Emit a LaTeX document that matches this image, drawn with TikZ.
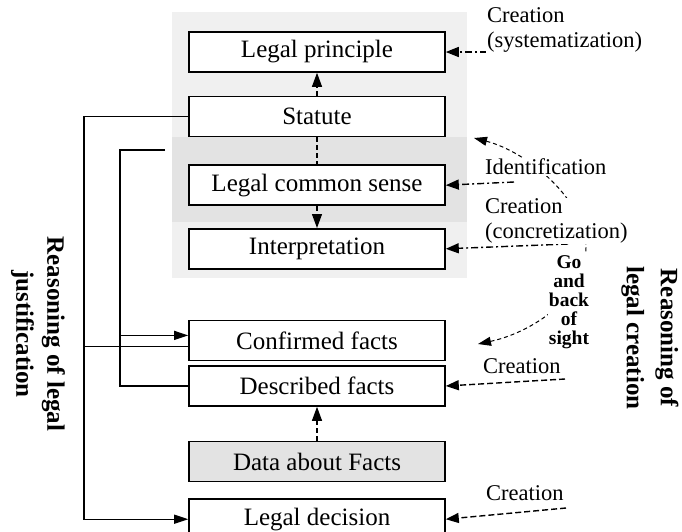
\documentclass[tikz,border=0pt]{standalone}
\usepackage{fontspec}
\setmainfont{Liberation Serif}
\usetikzlibrary{arrows.meta, positioning}
\newcommand\bxfont{\fontsize{25}{27}\selectfont}
\newcommand\lbfont{\fontsize{22.5}{25}\selectfont}
\colorlet{stip}{black!6}
\colorlet{stipdark}{black!11}

\begin{document}
\begin{tikzpicture}[x=1pt, y=-1pt,
    box/.style={draw, line width=1.6pt, fill=white, minimum width=256pt,
      minimum height=40pt, inner sep=0pt, font=\bxfont},
    databox/.style={box, fill=stipdark},
    link/.style={draw, line width=1.3pt},
    linkarr/.style={link, -{Triangle[length=14pt, width=9pt]}},
    vlink/.style={draw, line width=1.1pt, dash pattern=on 5pt off 3pt,
      -{Triangle[length=14pt, width=10pt]}},
    inarr/.style={draw, line width=1.4pt, dash pattern=on 7pt off 3pt on 2pt off 3pt,
      -{Triangle[length=13pt, width=10pt]}},
    indash/.style={inarr, dash pattern=on 6pt off 3pt},
    sightarc/.style={draw, line width=1pt, dash pattern=on 4pt off 3pt,
      {Triangle[length=13pt, width=9pt]}-{Triangle[length=13pt, width=9pt]}},
    lbl/.style={font=\lbfont, align=left, anchor=west, inner sep=1pt, fill=white},
    ttl/.style={font=\fontsize{25}{31}\selectfont\bfseries, align=center, rotate=-90},
    node distance=23pt]
  \useasboundingbox (0,0) rectangle (682,531);
  \fill[stip] (172,12) rectangle (467,278);
  \fill[stipdark] (172,137) rectangle (467,222);

  \node[box] (prin) at (317,52) {Legal principle};
  \node[box, below=23pt of prin] (stat) {Statute};
  \node[box, below=27pt of stat] (sense) {Legal common sense};
  \node[box, below=22pt of sense] (interp) {Interpretation};
  \node[box, below=50pt of interp] (conf) {Confirmed facts};
  \node[box, below=4pt of conf] (desc) {Described facts};
  \node[databox, below=34pt of desc] (data) {Data about Facts};
  \node[box, below=16pt of data] (dec) {Legal decision};

  \draw[vlink] (stat) -- (prin);
  \draw[vlink, -] (stat) -- (sense);
  \draw[vlink] (sense) -- (interp);
  \draw[vlink] (data) -- (desc);

  \coordinate (ox) at (84,0);
  \coordinate (ix) at (120,0);
  \coordinate (jtop) at (165,150);
  \draw[linkarr] (stat.west) -- (stat.west -| ox) -- (dec.west -| ox) -- (dec.west);
  \draw[link] ([yshift=-6pt]conf.west -| ox) -- ([yshift=-6pt]conf.west);
  \draw[link] (jtop) -- (jtop -| ix) -- (desc.west -| ix) -- (desc.west);
  \draw[linkarr] ([yshift=5pt]conf.west -| ix) -- ([yshift=5pt]conf.west);

  \coordinate (sysend) at (577,52);
  \coordinate (idend) at (514,182);
  \coordinate (concend) at (568,244);
  \coordinate (descend) at (565,379);
  \coordinate (decend) at (566,508);
  \draw[inarr] (sysend) -- (prin.east);
  \draw[inarr] (idend) -- (sense.east);
  \draw[inarr] (concend) -- (interp.east);
  \draw[indash] (descend) -- (desc.east);
  \draw[indash] (decend) -- (dec.east);

  \coordinate (idtip) at (474,138);
  \coordinate (turn) at (586,247);
  \coordinate (sighttip) at (478,344);
  \draw[sightarc] (idtip) .. controls (528,152) and (585,200) .. (turn)
    .. controls (587,298) and (530,333) .. (sighttip);

  \node[lbl] (lsys) at (486,30) {Creation\\(systematization)};
  \node[lbl] (lid) at (484,167) {Identification};
  \node[lbl] (lconc) at (484,221) {Creation\\(concretization)};
  \node[lbl] (ldesc) at (482,366) {Creation};
  \node[lbl] (ldec) at (485,493) {Creation};
  \node[font=\fontsize{19.5}{19}\selectfont\bfseries, align=center, fill=white,
    inner sep=1pt] (sight) at (569,302) {Go\\and\\back\\of\\sight};

  \node[ttl] (tjust) at (38,334) {Reasoning of legal\\justification};
  \node[ttl, font=\fontsize{25}{34}\selectfont\bfseries] (tcrea) at (650,338)
    {Reasoning of\\legal creation};
\end{tikzpicture}
\end{document}
